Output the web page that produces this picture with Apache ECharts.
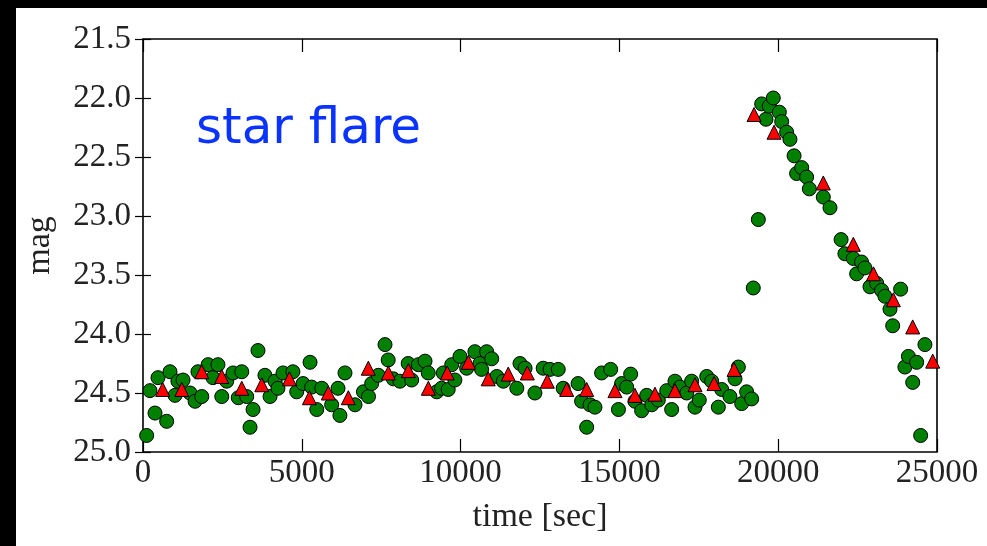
<!DOCTYPE html>
<html>
<head>
<meta charset="utf-8">
<script src="https://cdn.jsdelivr.net/npm/echarts@6/dist/echarts.min.js"></script>
<style>
  html, body { margin: 0; padding: 0; background: #000; }
  #chart { position: absolute; left: 16px; top: 8px; width: 971px; height: 538px; background: #fff; }
</style>
</head>
<body>
<div id="chart"></div>
<script>
// green circles: time [sec] and magnitude
const greenTime = [
  115, 220, 378, 472, 745, 850, 1008, 1100, 1260, 1480, 1640, 1730, 1850, 2050, 2200,
  2360, 2480, 2635, 2835, 3000, 3110, 3265, 3370, 3465, 3620, 3840, 4000, 4160, 4250, 4410,
  4720, 4840, 5040, 5260, 5310, 5470, 5630, 5940, 6140, 6200, 6360, 6675, 6940, 7100, 7200,
  7410, 7620, 7720, 7880, 8090, 8350, 8460, 8670, 8880, 8980, 9250, 9400, 9455, 9610, 9720,
  9820, 9980, 10190, 10450, 10610, 10660, 10820, 10980, 11140, 11345, 11770, 11870, 12030, 12340, 12600,
  12815, 13075, 13230, 13700, 13810, 13970, 14075, 14230, 14440, 14725, 14970, 15070, 15230, 15355, 15490,
  15700, 15860, 16020, 16225, 16490, 16645, 16750, 16910, 17120, 17275, 17380, 17515, 17750, 17905, 18115,
  18220, 18480, 18640, 18745, 18850, 19005, 19165, 19215, 19375, 19480, 19615, 19720, 19845, 20035, 20110,
  20265, 20370, 20500, 20580, 20740, 20895, 20980, 21420, 21630, 21980, 22100, 22365, 22470, 22625, 22730,
  22890, 23100, 23255, 23360, 23520, 23605, 23855, 23990, 24100, 24235, 24360, 24485, 24620
];
const greenMag = [
  24.86, 24.48, 24.67, 24.37, 24.74, 24.32, 24.52, 24.40, 24.39, 24.50, 24.57, 24.32, 24.53, 24.26, 24.37,
  24.26, 24.53, 24.40, 24.33, 24.54, 24.32, 24.53, 24.79, 24.64, 24.14, 24.35, 24.53, 24.40, 24.46, 24.33,
  24.32, 24.49, 24.42, 24.24, 24.45, 24.64, 24.46, 24.60, 24.46, 24.69, 24.33, 24.60, 24.49, 24.53, 24.42,
  24.35, 24.09, 24.22, 24.38, 24.40, 24.25, 24.39, 24.26, 24.23, 24.33, 24.49, 24.46, 24.33, 24.47, 24.26,
  24.39, 24.19, 24.29, 24.15, 24.25, 24.30, 24.15, 24.21, 24.36, 24.40, 24.46, 24.25, 24.29, 24.50, 24.29,
  24.30, 24.30, 24.46, 24.42, 24.57, 24.79, 24.60, 24.62, 24.33, 24.30, 24.64, 24.42, 24.45, 24.34, 24.57,
  24.65, 24.52, 24.60, 24.56, 24.48, 24.64, 24.40, 24.45, 24.50, 24.40, 24.62, 24.56, 24.36, 24.40, 24.62,
  24.47, 24.53, 24.38, 24.28, 24.59, 24.49, 24.55, 23.61, 23.03, 22.05, 22.18, 22.07, 22.00, 22.12, 22.20,
  22.29, 22.35, 22.49, 22.64, 22.59, 22.67, 22.77, 22.84, 22.93, 23.20, 23.32, 23.36, 23.49, 23.39, 23.44,
  23.60, 23.57, 23.63, 23.68, 23.79, 23.93, 23.62, 24.28, 24.19, 24.41, 24.24, 24.86, 24.09
];

// red triangles
const redTime = [
  620, 1220, 1850, 2480, 3110, 3740, 4610, 5240, 5835, 6465, 7095, 7725, 8355, 8985, 9580,
  10245, 10870, 11500, 12100, 12730, 13340, 13970, 14860, 15490, 16120, 16750, 17380, 17980, 18610,
  19240, 19870, 21420, 22365, 23000, 23625, 24235, 24865
];
const redMag = [
  24.47, 24.47, 24.32, 24.36, 24.46, 24.43, 24.38, 24.54, 24.50, 24.54, 24.29, 24.33, 24.31, 24.46, 24.33,
  24.24, 24.38, 24.34, 24.33, 24.40, 24.47, 24.47, 24.48, 24.52, 24.51, 24.48, 24.43, 24.42, 24.30,
  22.14, 22.29, 22.72, 23.24, 23.49, 23.71, 23.94, 24.23
];

const xTicks = [0, 5000, 10000, 15000, 20000, 25000];
const yTicks = [21.5, 22.0, 22.5, 23.0, 23.5, 24.0, 24.5, 25.0];

const serif = "Liberation Serif";
const chart = echarts.init(document.getElementById("chart"));

const zip = (xs, ys) => xs.map((x, i) => [x, ys[i]]);

const tickStyle = { color: "#000", width: 1.2 };

chart.setOption({
  animation: false,
  grid: {
    left: 127, right: 50, top: 31, bottom: 94,
    outerBoundsMode: "none",
    show: true, borderColor: "#000", borderWidth: 1.6, backgroundColor: "#fff",
  },
  title: {
    text: "star flare",
    left: 175, top: 92,
    textStyle: { fontFamily: "DejaVu Sans", fontWeight: "normal", fontSize: 50, color: "#0a33ff" },
  },
  xAxis: [
    {
      type: "value", min: xTicks[0], max: xTicks[xTicks.length - 1], interval: 5000,
      name: "time [sec]", nameLocation: "middle", nameGap: 48,
      nameTextStyle: { fontFamily: serif, fontSize: 34, color: "#222" },
      axisLine: { show: false },
      axisTick: { inside: true, length: 13, lineStyle: tickStyle },
      axisLabel: { fontFamily: serif, fontSize: 33, color: "#222", margin: 5, formatter: (v) => String(v) },
      splitLine: { show: false },
    },
    {
      type: "value", position: "top", min: xTicks[0], max: xTicks[xTicks.length - 1], interval: 5000,
      axisLine: { show: false },
      axisTick: { inside: true, length: 13, lineStyle: tickStyle },
      axisLabel: { show: false },
      splitLine: { show: false },
    },
  ],
  yAxis: [
    {
      type: "value", inverse: true, min: yTicks[0], max: yTicks[yTicks.length - 1], interval: 0.5,
      name: "mag", nameLocation: "middle", nameGap: 86, nameRotate: 90,
      nameTextStyle: { fontFamily: serif, fontSize: 34, color: "#222" },
      axisLine: { show: false },
      axisTick: { inside: true, length: 8, lineStyle: tickStyle },
      axisLabel: { fontFamily: serif, fontSize: 33, color: "#222", margin: 12, formatter: (v) => v.toFixed(1) },
      splitLine: { show: false },
    },
    {
      type: "value", position: "right", inverse: true, min: yTicks[0], max: yTicks[yTicks.length - 1], interval: 0.5,
      axisLine: { show: false },
      axisTick: { inside: true, length: 8, lineStyle: tickStyle },
      axisLabel: { show: false },
      splitLine: { show: false },
    },
  ],
  series: [
    {
      type: "scatter",
      data: zip(greenTime, greenMag),
      symbol: "circle",
      symbolSize: 14,
      itemStyle: { color: "#008000", borderColor: "#000", borderWidth: 1, opacity: 1 },
      clip: true,
    },
    {
      type: "scatter",
      data: zip(redTime, redMag),
      symbol: "triangle",
      symbolSize: 14,
      itemStyle: { color: "#ff0000", borderColor: "#000", borderWidth: 1, opacity: 1 },
      clip: true,
    },
  ],
});
</script>
</body>
</html>
